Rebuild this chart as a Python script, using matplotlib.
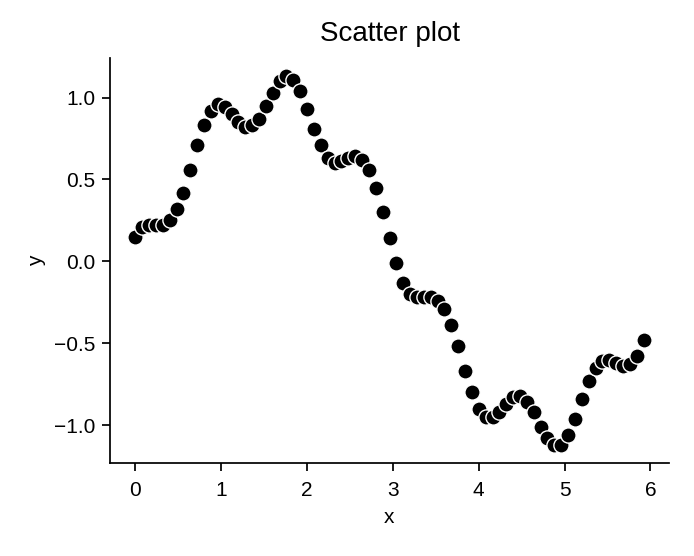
import matplotlib
matplotlib.use("Agg")
import matplotlib.pyplot as plt

plt.rcParams['font.family'] = ['Liberation Sans', 'DejaVu Sans']

# values
x = [0.00, 0.08, 0.16, 0.24, 0.32, 0.40, 0.48, 0.56, 0.64, 0.72,
     0.80, 0.88, 0.96, 1.04, 1.12, 1.20, 1.28, 1.36, 1.44, 1.52,
     1.60, 1.68, 1.76, 1.84, 1.92, 2.00, 2.08, 2.16, 2.24, 2.32,
     2.40, 2.48, 2.56, 2.64, 2.72, 2.80, 2.88, 2.96, 3.04, 3.12,
     3.20, 3.28, 3.36, 3.44, 3.52, 3.60, 3.68, 3.76, 3.84, 3.92,
     4.00, 4.08, 4.16, 4.24, 4.32, 4.40, 4.48, 4.56, 4.64, 4.72,
     4.80, 4.88, 4.96, 5.04, 5.12, 5.20, 5.28, 5.36, 5.44, 5.52,
     5.60, 5.68, 5.76, 5.84, 5.92]
y = [0.15, 0.21, 0.22, 0.22, 0.22, 0.25, 0.32, 0.42, 0.56, 0.71,
     0.83, 0.92, 0.96, 0.94, 0.90, 0.85, 0.82, 0.83, 0.87, 0.95,
     1.03, 1.10, 1.13, 1.11, 1.04, 0.93, 0.81, 0.71, 0.63, 0.60,
     0.61, 0.63, 0.64, 0.62, 0.56, 0.45, 0.30, 0.14, -0.01, -0.13,
     -0.20, -0.22, -0.22, -0.22, -0.24, -0.29, -0.39, -0.52, -0.67, -0.80,
     -0.90, -0.95, -0.95, -0.92, -0.87, -0.83, -0.82, -0.86, -0.92, -1.01,
     -1.08, -1.12, -1.12, -1.06, -0.96, -0.84, -0.73, -0.65, -0.61, -0.60,
     -0.62, -0.64, -0.63, -0.58, -0.48]

fig = plt.figure(figsize=(6.94, 5.56), dpi=100)
ax = fig.add_axes([0.1585, 0.167, 0.8055, 0.729])

ax.scatter(x, y, s=120, c='black', edgecolors='white', linewidths=1.0)

ax.set_title('Scatter plot', fontsize=20, pad=12)
ax.set_xlabel('x', fontsize=15, labelpad=6)
ax.set_ylabel('y', fontsize=15, labelpad=6)
ax.set_xticks([0, 1, 2, 3, 4, 5, 6])
ax.set_yticks([-1.0, -0.5, 0.0, 0.5, 1.0])
ax.tick_params(labelsize=15, width=1.25, length=5.5, color='black', pad=5)
ax.tick_params(axis='x', pad=7)
for side in ['top', 'right']:
    ax.spines[side].set_visible(False)
for side in ['left', 'bottom']:
    ax.spines[side].set_linewidth(1.25)

fig.savefig('out.png', dpi=100)
